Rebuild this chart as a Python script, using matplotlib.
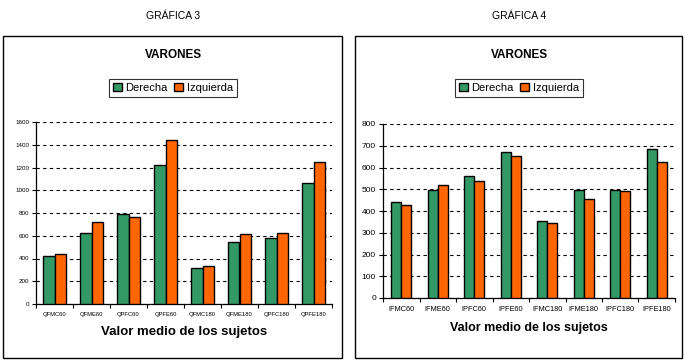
import matplotlib
matplotlib.use("Agg")
import matplotlib.pyplot as plt
import numpy as np
from matplotlib.patches import Rectangle, Patch

cats3 = ["QFMC60", "QFME60", "QPFC60", "QPFE60", "QFMC180", "QFME180", "QPFC180", "QPFE180"]
der3 = [426, 620, 787, 1218, 320, 549, 584, 1060]
izq3 = [443, 725, 769, 1439, 338, 611, 628, 1245]

cats4 = ["IFMC60", "IFME60", "IPFC60", "IPFE60", "IFMC180", "IFME180", "IPFC180", "IPFE180"]
der4 = [440, 495, 560, 670, 353, 495, 495, 683]
izq4 = [427, 518, 537, 651, 344, 454, 491, 624]

GREEN = "#339966"
ORANGE = "#FF6600"

fig = plt.figure(figsize=(6.86, 3.63), dpi=100)
plt.rcParams['font.family'] = ['Liberation Sans', 'DejaVu Sans']

def panel(rect_box, ax_rect, cats, der, izq, ymax, ystep, xfs, yfs, title, bw, cx, xlfs):
    fig.patches.append(Rectangle(rect_box[:2], rect_box[2], rect_box[3], transform=fig.transFigure,
                                 fill=False, edgecolor="black", linewidth=1.0))
    fig.text(cx, 1 - 16/363, title, ha="center", va="center", fontsize=7.5)
    fig.text(cx, 1 - 55/363, "VARONES", ha="center", va="center", fontsize=8.5, fontweight="bold")
    handles = [Patch(facecolor=GREEN, edgecolor="black", label="Derecha"),
               Patch(facecolor=ORANGE, edgecolor="black", label="Izquierda")]
    leg = fig.legend(handles=handles, loc="center", bbox_to_anchor=(cx, 1 - 88/363), ncol=2,
                     fontsize=8, frameon=True, fancybox=False, handlelength=0.8, handleheight=0.8,
                     handletextpad=0.3, columnspacing=0.6, borderpad=0.35)
    leg.get_frame().set_edgecolor("black")
    leg.get_frame().set_linewidth(0.8)

    ax = fig.add_axes(ax_rect)
    x = np.arange(len(cats))
    ax.bar(x - bw/2, der, bw, color=GREEN, edgecolor="black", linewidth=1.0, zorder=3)
    ax.bar(x + bw/2, izq, bw, color=ORANGE, edgecolor="black", linewidth=1.0, zorder=3)
    ax.set_xlim(-0.5, len(cats) - 0.5)
    ax.set_ylim(0, ymax)
    ax.set_yticks(np.arange(0, ymax + 1, ystep))
    ax.yaxis.grid(True, linestyle=(0, (3, 3)), color="black", linewidth=0.8, zorder=0)
    ax.set_xticks(np.arange(-0.5, len(cats), 1.0))
    ax.set_xticklabels([])
    ax.set_xticks(x, minor=True)
    ax.set_xticklabels(cats, minor=True, fontsize=xfs)
    ax.tick_params(axis="x", which="minor", length=0, pad=6)
    ax.tick_params(axis="x", which="major", length=3, width=0.8, direction="out")
    ax.tick_params(axis="y", length=3, width=0.8, labelsize=yfs, pad=2)
    for s in ("top", "right"):
        ax.spines[s].set_visible(False)
    for s in ("left", "bottom"):
        ax.spines[s].set_linewidth(0.9)
    ax.set_xlabel("Valor medio de los sujetos", fontsize=xlfs, fontweight="bold", labelpad=6)
    return ax

panel((3/686, 5/363, 339/686, 322/363), (36/686, 59/363, 296/686, 182/363),
      cats3, der3, izq3, 1600, 200, 4.2, 4.5, "GRÁFICA 3", 0.3, 173/686, 9.5)
panel((355/686, 5/363, 327/686, 322/363), (383/686, 65/363, 292/686, 174/363),
      cats4, der4, izq4, 800, 100, 5.3, 6, "GRÁFICA 4", 0.28, 519/686, 9)

fig.savefig("out.png", dpi=100)
